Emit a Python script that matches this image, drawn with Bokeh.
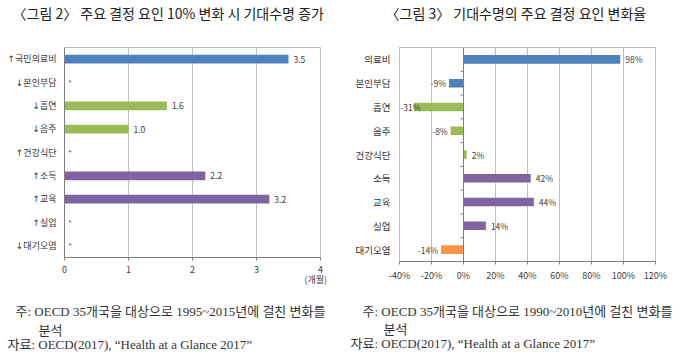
import numpy as np
from bokeh.plotting import figure
from bokeh.layouts import row
from bokeh.models import (ColumnDataSource, Range1d, FixedTicker, Title,
                          PrintfTickFormatter, Span)
from bokeh.embed import file_html
from bokeh.resources import INLINE
from bokeh.core.properties import value

# ---------------- data ----------------
left_title = "〈그림 2〉 주요 결정 요인 10% 변화 시 기대수명 증가"
left_categories = ["↑국민의료비", "↓본인부담", "↓흡연", "↓음주", "↑건강식단",
                   "↑소득", "↑교육", "↑실업", "↓대기오염"]
left_values = [3.5, None, 1.6, 1.0, None, 2.2, 3.2, None, None]
left_ticks = [0, 1, 2, 3, 4]
left_unit = "(개월)"
left_note = "주: OECD 35개국을 대상으로 1995~2015년에 걸친 변화를"

right_title = "〈그림 3〉 기대수명의 주요 결정 요인 변화율"
right_categories = ["의료비", "본인부담", "흡연", "음주", "건강식단",
                    "소득", "교육", "실업", "대기오염"]
right_values = [98, -9, -31, -8, 2, 42, 44, 14, -14]
right_ticks = [-40, -20, 0, 20, 40, 60, 80, 100, 120]
right_note = "주: OECD 35개국을 대상으로 1990~2010년에 걸친 변화를"

groups = ["의료", "의료", "건강행태", "건강행태", "건강행태",
          "사회경제", "사회경제", "사회경제", "환경"]
group_colors = {"의료": "#4F81BD", "건강행태": "#9BBB59",
                "사회경제": "#8064A2", "환경": "#F79646"}

note_line2 = "분석"
source_line = "자료: OECD(2017), “Health at a Glance 2017”"

KFONT = "'Noto Sans CJK KR'"
SFONT = "'Liberation Serif', 'Noto Sans CJK KR'"
AFONT = "'DejaVu Sans', 'Noto Sans CJK KR'"
GRID = "#BFBFBF"
TXT = "#333333"
FRAME_W = 256
NOTE_SIZE = "13px"


def spacer(p, gap, side):
    p.add_layout(Title(text=" ", text_font_size="1px", standoff=gap), side)


def base_fig(n, xr, ticks, mb_left, mb_right, mb_top, fh, title, title_offset, top_gap):
    p = figure(frame_width=FRAME_W, frame_height=fh, output_backend="svg",
               toolbar_location=None, x_range=Range1d(*xr), y_range=Range1d(-0.5, n - 0.5),
               min_border_left=mb_left, min_border_right=mb_right,
               min_border_top=mb_top, min_border_bottom=0)
    p.title.text = title
    p.title.align = "left"
    p.title.offset = title_offset
    p.title.standoff = 0
    p.title.text_font = KFONT
    p.title.text_font_size = "14px"
    p.title.text_font_style = "normal"
    p.title.text_color = "#222222"
    spacer(p, top_gap, "above")
    p.outline_line_color = GRID
    p.ygrid.visible = False
    p.xgrid.ticker = FixedTicker(ticks=ticks)
    p.xgrid.grid_line_color = GRID
    p.xaxis.ticker = FixedTicker(ticks=ticks)
    p.xaxis.axis_line_color = "#7F7F7F"
    p.xaxis.major_tick_line_color = "#7F7F7F"
    p.xaxis.major_tick_out = 3
    p.xaxis.major_tick_in = 0
    p.xaxis.minor_tick_line_color = None
    p.xaxis.major_label_text_font = KFONT
    p.xaxis.major_label_text_font_size = "9px"
    p.xaxis.major_label_text_color = "#404040"
    p.yaxis.major_tick_out = 0
    p.yaxis.major_tick_in = 0
    p.yaxis.minor_tick_line_color = None
    p.yaxis.major_label_text_color = TXT
    return p


def add_below(p, text, offset, standoff, size=NOTE_SIZE, font=SFONT, color=TXT):
    p.add_layout(Title(text=text, align="left", offset=offset, text_font=font,
                       text_font_size=size, text_font_style="normal", text_color=color,
                       vertical_align="top", standoff=standoff), "below")


# ---------------- left chart ----------------
n = len(left_categories)
lpos = [n - 1 - i for i in range(n)]
pl = base_fig(n, (0, 4), left_ticks, 64, 20, 47, 210, left_title, -52, 22)
pl.yaxis.ticker = FixedTicker(ticks=lpos)
pl.yaxis.major_label_overrides = {p_: c for p_, c in zip(lpos, left_categories)}
pl.yaxis.major_label_text_font = AFONT
pl.yaxis.major_label_text_font_size = "9px"
pl.yaxis.major_label_standoff = 8
pl.yaxis.axis_line_color = "#7F7F7F"
pl.xaxis.major_label_standoff = 5

sig = [i for i, v in enumerate(left_values) if v is not None]
nsig = [i for i, v in enumerate(left_values) if v is None]
src_l = ColumnDataSource(dict(
    y=[lpos[i] for i in sig], v=[left_values[i] for i in sig],
    c=[group_colors[groups[i]] for i in sig],
    t=[f"{left_values[i]:.1f}" for i in sig]))
pl.hbar(y="y", right="v", left=0, height=0.38, fill_color="c", line_color=None, source=src_l)
pl.text(x="v", y="y", text="t", source=src_l, x_offset=5, text_font=value(KFONT),
        text_font_size="8.5px", text_color="#404040", text_baseline="middle")
src_ns = ColumnDataSource(dict(y=[lpos[i] for i in nsig], x=[0] * len(nsig),
                               t=["*"] * len(nsig)))
pl.text(x="x", y="y", text="t", source=src_ns, x_offset=4, text_font=value("Liberation Sans"),
        text_font_size="8px", text_color="#555555", text_baseline="middle")
bounds_l = [p_ + 0.5 for p_ in lpos[1:]]
pl.ray(x=[0] * len(bounds_l), y=bounds_l, length=3, length_units="screen",
       angle=np.pi, line_color="#7F7F7F", line_width=1)

add_below(pl, left_unit, 240, -6, size="9px", font=KFONT, color="#404040")
spacer(pl, 16, "below")
add_below(pl, left_note, -49, 0)
add_below(pl, note_line2, -26, 4)
add_below(pl, source_line, -57, -10)
spacer(pl, 6, "below")

# ---------------- right chart ----------------
rpos = [n - 1 - i for i in range(n)]
xmin_r = right_ticks[0]
pr = base_fig(n, (xmin_r, right_ticks[-1]), right_ticks, 59, 25, 46, 214, right_title,
              -14, 22)
pr.xaxis.formatter = PrintfTickFormatter(format="%d%%")
pr.xaxis.major_label_standoff = 4
pr.yaxis.ticker = FixedTicker(ticks=rpos)
pr.yaxis.major_label_overrides = {p_: c for p_, c in zip(rpos, right_categories)}
pr.yaxis.major_label_text_font = KFONT
pr.yaxis.major_label_text_font_size = "9.5px"
pr.yaxis.major_label_standoff = 9
pr.yaxis.axis_line_color = GRID

px_per_unit = FRAME_W / (right_ticks[-1] - xmin_r)
label_w = 23


def neg_offset(v):
    room = (v - xmin_r) * px_per_unit
    return -3 if room > label_w + 3 else label_w - room - 2


src_r = ColumnDataSource(dict(
    y=rpos, v=right_values, c=[group_colors[g] for g in groups],
    t=[f"{v}%" for v in right_values],
    al=["left" if v >= 0 else "right" for v in right_values],
    off=[5 if v >= 0 else neg_offset(v) for v in right_values]))
pr.hbar(y="y", right="v", left=0, height=0.36, fill_color="c", line_color=None, source=src_r)
pr.add_layout(Span(location=0, dimension="height", line_color="#7F7F7F", line_width=1))
bounds_r = [p_ + 0.5 for p_ in rpos[1:]]
pr.ray(x=[0] * len(bounds_r), y=bounds_r, length=3, length_units="screen",
       angle=np.pi, line_color="#7F7F7F", line_width=1)
pr.text(x="v", y="y", text="t", source=src_r, x_offset="off", text_align="al",
        text_font=value(KFONT), text_font_size="8.5px", text_color="#404040",
        text_baseline="middle")

spacer(pr, 16, "below")
add_below(pr, right_note, -37, 0)
add_below(pr, note_line2, -16, 3)
add_below(pr, source_line, -49, -10)
spacer(pr, 6, "below")

layout = row(pl, pr)
open("out.html", "w").write(file_html(layout, INLINE))
